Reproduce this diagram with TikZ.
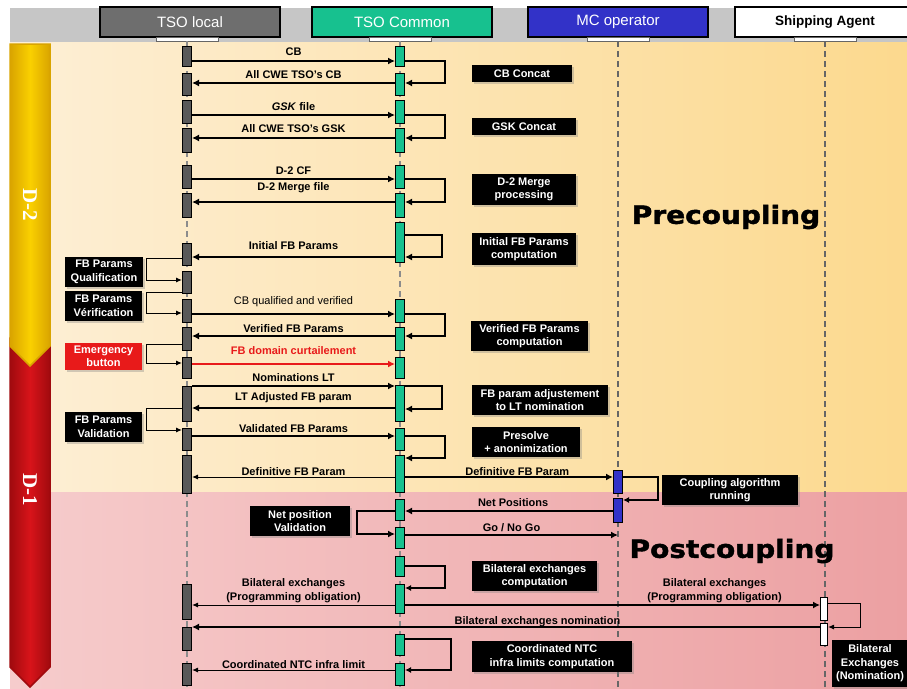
\documentclass[tikz,border=0pt]{standalone}
\usepackage{fontspec}
\setmainfont{Liberation Sans}
\newfontfamily\dayfont{Liberation Serif}
\newfontfamily\phasefont[FakeStretch=1.12, FakeBold=1.6]{DejaVu Sans}
\usetikzlibrary{arrows.meta,shadows}

\definecolor{hdrgrey}{HTML}{C6C6C6}
\definecolor{localgrey}{HTML}{6E6E6E}
\definecolor{commongreen}{HTML}{17C18F}
\definecolor{mcblue}{HTML}{3232C8}
\definecolor{creamL}{HTML}{FDEFD6}
\definecolor{creamR}{HTML}{FCD98E}
\definecolor{pinkL}{HTML}{F6CCCC}
\definecolor{pinkR}{HTML}{ECA0A2}
\definecolor{dayyellow}{HTML}{FAD000}
\definecolor{dayyellowdark}{HTML}{D9A400}
\definecolor{dayred}{HTML}{D8141A}
\definecolor{dayreddark}{HTML}{A00A0E}
\definecolor{alarmred}{HTML}{E81A1A}

\begin{document}
\begin{tikzpicture}[
    x=1pt, y=-1pt,
    actor/.style={draw=black, line width=1.5pt, minimum width=180pt, minimum height=30pt, inner sep=0pt, font=\fontsize{15}{17}\selectfont, text=white},
    tab/.style={fill=white, draw=black!60, line width=0.4pt, minimum width=62pt, minimum height=4pt, inner sep=0pt},
    lifeline/.style={draw=black!45, line width=1.2pt, dash pattern=on 6pt off 4pt},
    lbar/.style={draw=black, line width=1pt, fill=black!65, minimum width=9pt, inner sep=0pt},
    cbar/.style={lbar, fill=commongreen},
    mbar/.style={lbar, fill=mcblue},
    sbar/.style={lbar, fill=white, minimum width=7pt},
    proc/.style={fill=black, text=white, align=center, inner sep=0pt, font=\fontsize{11}{13.5}\bfseries, drop shadow={opacity=0.35, shadow xshift=1.5pt, shadow yshift=-1.5pt}},
    lbl/.style={font=\fontsize{11}{13.5}\bfseries, inner sep=0pt, align=center},
    msg/.style={line width=2pt, -{Latex[length=7pt,width=7pt]}},
    midmsg/.style={line width=1.3pt, -{Latex[length=6pt,width=6pt]}},
    thinmsg/.style={line width=1pt, -{Latex[length=6pt,width=5pt]}}
]
\useasboundingbox (0,0) rectangle (907,688);
\fill[hdrgrey] (10,8) rectangle (907,42);
\shade[left color=creamL, right color=creamR] (10,42) rectangle (907,492);
\shade[left color=pinkL, right color=pinkR] (10,492) rectangle (907,688);

\shadedraw[draw=dayreddark, line width=1.5pt, left color=dayreddark, right color=dayreddark, middle color=dayred] (10,338) -- (50,338) -- (50,667) -- (30,687) -- (10,667) -- cycle;
\shadedraw[draw=dayyellowdark, line width=1.5pt, left color=dayyellowdark, right color=dayyellowdark, middle color=dayyellow] (10,44) -- (50,44) -- (50,346) -- (30,366) -- (10,346) -- cycle;
\node[rotate=-90, text=white, font=\dayfont\fontsize{21}{22}\bfseries] (d2) at (30,205) {D-2};
\node[rotate=-90, text=white, font=\dayfont\fontsize{21}{22}\bfseries] (d1) at (30,490) {D-1};

\node[actor, fill=localgrey] (tsol) at (190,22) {TSO local};
\node[actor, fill=commongreen] (tsoc) at (402,22) {TSO Common};
\node[actor, fill=mcblue] (mco) at (618,22) {MC operator};
\node[actor, fill=white, text=black, font=\fontsize{13.5}{16}\bfseries] (ship) at (825,22) {Shipping Agent};
\node[tab] (tl) at (187,39) {};
\node[tab] (tc) at (400,39) {};
\node[tab] (tm) at (618,39) {};
\node[tab] (ts) at (825,39) {};

\coordinate (bot) at (0,688);
\draw[lifeline] (tl.south) -- (tl.south |- bot);
\draw[lifeline] (tc.south) -- (tc.south |- bot);
\draw[lifeline, draw=black!60] (tm.south) -- (tm.south |- bot);
\draw[lifeline, draw=black!60] (ts.south) -- (ts.south |- bot);

\node[font=\phasefont\fontsize{25}{28}\bfseries] (pre) at (726,217) {Precoupling};
\node[font=\phasefont\fontsize{25}{28}\bfseries] (post) at (732,551) {Postcoupling};

\node[lbar, minimum height=20pt] (l1) at (187,56) {};
\node[lbar, minimum height=22pt] (l2) at (187,84) {};
\node[lbar, minimum height=23pt] (l3) at (187,111.5) {};
\node[lbar, minimum height=24pt] (l4) at (187,140) {};
\node[lbar, minimum height=23pt] (l5) at (187,176.5) {};
\node[lbar, minimum height=24pt] (l6) at (187,205) {};
\node[lbar, minimum height=22pt] (l7) at (187,254) {};
\node[lbar, minimum height=22pt] (l8) at (187,282) {};
\node[lbar, minimum height=23pt] (l9) at (187,310.5) {};
\node[lbar, minimum height=23pt] (l10) at (187,338.5) {};
\node[lbar, minimum height=21pt] (l11) at (187,367.5) {};
\node[lbar, minimum height=35pt] (l12) at (187,403.5) {};
\node[lbar, minimum height=22pt] (l13) at (187,439) {};
\node[lbar, minimum height=38pt] (l14) at (187,474) {};
\node[lbar, minimum height=35pt] (l15) at (187,601.5) {};
\node[lbar, minimum height=23pt] (l16) at (187,638.5) {};
\node[lbar, minimum height=22pt] (l17) at (187,674) {};

\node[cbar, minimum height=20pt] (c1) at (400,56) {};
\node[cbar, minimum height=22pt] (c2) at (400,84) {};
\node[cbar, minimum height=23pt] (c3) at (400,111.5) {};
\node[cbar, minimum height=24pt] (c4) at (400,140) {};
\node[cbar, minimum height=23pt] (c5) at (400,176.5) {};
\node[cbar, minimum height=24pt] (c6) at (400,205) {};
\node[cbar, minimum height=40pt] (c7) at (400,242) {};
\node[cbar, minimum height=23pt] (c8) at (400,310.5) {};
\node[cbar, minimum height=23pt] (c9) at (400,338.5) {};
\node[cbar, minimum height=21pt] (c10) at (400,367.5) {};
\node[cbar, minimum height=36pt] (c11) at (400,403.5) {};
\node[cbar, minimum height=22pt] (c12) at (400,439) {};
\node[cbar, minimum height=37pt] (c13) at (400,474) {};
\node[cbar, minimum height=21pt] (c14) at (400,509.5) {};
\node[cbar, minimum height=21pt] (c15) at (400,537.5) {};
\node[cbar, minimum height=20pt] (c16) at (400,566) {};
\node[cbar, minimum height=29pt] (c17) at (400,598.5) {};
\node[cbar, minimum height=21pt] (c18) at (400,644.5) {};
\node[cbar, minimum height=22pt] (c19) at (400,674) {};

\node[mbar, minimum height=23pt] (m1) at (618,481.5) {};
\node[mbar, minimum height=24pt] (m2) at (618,510) {};
\node[sbar, minimum height=23pt] (s1) at (824,608.5) {};
\node[sbar, minimum height=22pt] (s2) at (824,634) {};

\node[proc, minimum width=100pt, minimum height=17pt] (cbcat) at (522,73.5) {CB Concat};
\node[proc, minimum width=104pt, minimum height=17pt] (gskcat) at (524,126.5) {GSK Concat};
\node[proc, minimum width=104pt, minimum height=31pt] (mergeproc) at (524,189.5) {D-2 Merge\\processing};
\node[proc, minimum width=104pt, minimum height=32pt] (initproc) at (524,249) {Initial FB Params\\computation};
\node[proc, minimum width=117pt, minimum height=30pt] (verproc) at (529.5,336) {Verified FB Params\\computation};
\node[proc, minimum width=136pt, minimum height=30pt] (ltproc) at (540,400) {FB param adjustement\\to LT nomination};
\node[proc, minimum width=108pt, minimum height=30pt] (presolve) at (526,442) {Presolve\\+ anonimization};
\node[proc, minimum width=136pt, minimum height=30pt] (coupling) at (730,490) {Coupling algorithm\\running};
\node[proc, minimum width=100pt, minimum height=30pt] (npval) at (300,521) {Net position\\Validation};
\node[proc, minimum width=125pt, minimum height=30pt] (bilproc) at (534.5,576) {Bilateral exchanges\\computation};
\node[proc, minimum width=160pt, minimum height=31pt] (ntcproc) at (552,656.5) {Coordinated NTC\\infra limits computation};
\node[proc, minimum width=78pt, minimum height=30pt] (qualif) at (104,272) {FB Params\\Qualification};
\node[proc, minimum width=77pt, minimum height=30pt] (verif) at (103.5,306) {FB Params\\Vérification};
\node[proc, fill=alarmred, minimum width=77pt, minimum height=27pt] (emerg) at (103.5,356.5) {Emergency\\button};
\node[proc, minimum width=77pt, minimum height=30pt] (valid) at (103.5,427) {FB Params\\Validation};
\node[proc, minimum width=76pt, minimum height=47pt] (bilnom) at (870,663.5) {Bilateral\\Exchanges\\(Nomination)};

\draw[msg] ([yshift=-5pt]l1.east) -- node[lbl, yshift=9pt] {CB} ([yshift=-5pt]c1.west);
\draw[msg] ([yshift=-5pt]c1.east) -- ++(40,0) |- ([yshift=1pt]c2.east);
\draw[msg] ([yshift=1pt]c2.west) -- node[lbl, yshift=8pt] {All CWE TSO's CB} ([yshift=1pt]l2.east);
\draw[msg] ([yshift=-3.5pt]l3.east) -- node[lbl, yshift=8pt] {\textit{GSK} file} ([yshift=-3.5pt]c3.west);
\draw[msg] ([yshift=-3.5pt]c3.east) -- ++(40,0) |- ([yshift=2pt]c4.east);
\draw[msg] ([yshift=2pt]c4.west) -- node[lbl, yshift=9pt] {All CWE TSO's GSK} ([yshift=2pt]l4.east);
\draw[msg] ([yshift=-2.5pt]l5.east) -- node[lbl, yshift=8pt] {D-2 CF} ([yshift=-2.5pt]c5.west);
\draw[msg] ([yshift=-2.5pt]c5.east) -- ++(40,0) |- ([yshift=3pt]c6.east);
\draw[msg] ([yshift=3pt]c6.west) -- node[lbl, yshift=14pt] {D-2 Merge file} ([yshift=3pt]l6.east);
\draw[msg] ([yshift=7pt]c7.east) -- ++(37,0) |- ([yshift=-15pt]c7.east);
\draw[msg] ([yshift=-15pt]c7.west) -- node[lbl, yshift=11pt] {Initial FB Params} ([yshift=-3pt]l7.east);
\draw[thinmsg] ([yshift=-4pt]l7.west) -- ++(-36,0) |- ([yshift=2pt]l8.west);
\draw[thinmsg] ([yshift=-10pt]l8.west) -- ++(-36,0) |- ([yshift=-2.5pt]l9.west);
\draw[msg] ([yshift=-3.5pt]l9.east) -- node[lbl, yshift=12pt, font=\fontsize{11}{13.5}\selectfont] {CB qualified and verified} ([yshift=-3.5pt]c8.west);
\draw[msg] ([yshift=-3.5pt]c8.east) -- ++(40,0) |- ([yshift=2.5pt]c9.east);
\draw[msg] ([yshift=2.5pt]c9.west) -- node[lbl, yshift=7pt] {Verified FB Params} ([yshift=2.5pt]l10.east);
\draw[thinmsg] ([yshift=-5.5pt]l10.west) -- ++(-36,0) |- ([yshift=4.5pt]l11.west);
\draw[msg, alarmred] ([yshift=3.5pt]l11.east) -- node[lbl, yshift=13pt] {FB domain curtailement} ([yshift=3.5pt]c10.west);
\draw[msg] ([yshift=17.5pt]l12.east) -- node[lbl, yshift=8pt] {Nominations LT} ([yshift=17.5pt]c11.west);
\draw[msg] ([yshift=17.5pt]c11.east) -- ++(37,0) |- ([yshift=-5.5pt]c11.east);
\draw[msg] ([yshift=-4.5pt]c11.west) -- node[lbl, yshift=10pt] {LT Adjusted FB param} ([yshift=-4.5pt]l12.east);
\draw[thinmsg] ([yshift=-4.5pt]l12.west) -- ++(-36,0) |- ([yshift=9pt]l13.west);
\draw[msg] ([yshift=3pt]l13.east) -- node[lbl, yshift=7pt] {Validated FB Params} ([yshift=3pt]c12.west);
\draw[msg] ([yshift=3pt]c12.east) -- ++(40,0) |- ([yshift=16pt]c13.east);
\draw[thinmsg] ([yshift=-3pt]c13.west) -- node[lbl, yshift=5pt] {Definitive FB Param} ([yshift=-3pt]l14.east);
\draw[msg] ([yshift=-3pt]c13.east) -- node[lbl, pos=0.54, yshift=5pt] {Definitive FB Param} ([yshift=4.5pt]m1.west);
\draw[midmsg] ([yshift=4.5pt]m1.east) -- ++(35,0) |- ([yshift=10pt]m2.east);
\draw[msg] ([yshift=-1pt]m2.west) -- node[lbl, pos=0.48, yshift=8pt] {Net Positions} ([yshift=-1.5pt]c14.east);
\draw[msg] ([yshift=-1.5pt]c14.west) -- ++(-38.5,0) |- ([yshift=3.5pt]c15.west);
\coordinate[yshift=2.5pt] (gng) at (c15.east -| tm.south);
\draw[msg] ([yshift=2.5pt]c15.east) -- node[lbl, yshift=7pt] {Go / No Go} (gng);
\draw[midmsg] (c16.east) -- ++(40,0) |- ([yshift=10.5pt]c17.east);
\draw[thinmsg] ([yshift=-6.5pt]c17.west) -- node[lbl, yshift=14.5pt] {Bilateral exchanges\\(Programming obligation)} ([yshift=-3.5pt]l15.east);
\draw[msg] ([yshift=-6.5pt]c17.east) -- node[lbl, pos=0.746, yshift=14.5pt] {Bilateral exchanges\\(Programming obligation)} ([yshift=3.5pt]s1.west);
\draw[thinmsg] ([yshift=5.5pt]s1.east) -- ++(32,0) |- ([yshift=7pt]s2.east);
\draw[msg] ([yshift=7pt]s2.west) -- node[lbl, pos=0.45, yshift=5pt] {Bilateral exchanges nomination} ([yshift=11.5pt]l16.east);
\draw[midmsg] ([yshift=5.5pt]c18.east) -- ++(46,0) |- ([yshift=4pt]c19.east);
\draw[thinmsg] ([yshift=4pt]c19.west) -- node[lbl, yshift=5pt] {Coordinated NTC infra limit} ([yshift=4pt]l17.east);
\end{tikzpicture}
\end{document}
